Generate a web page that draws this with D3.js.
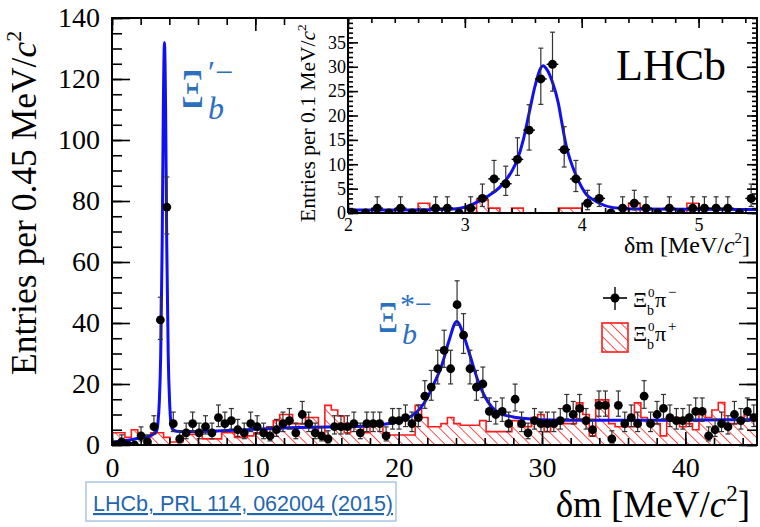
<!DOCTYPE html>
<html>
<head>
<meta charset="utf-8">
<script src="https://cdn.jsdelivr.net/npm/d3@7/dist/d3.min.js"></script>
<style>
  body { margin: 0; background: #fff; }
  svg text { font-family: "Liberation Serif", "DejaVu Serif", serif; }
</style>
</head>
<body>
<svg id="chart" width="760" height="527"></svg>
<script>
// ---- data ----
// main plot: 0.45 MeV bins from 0 to 45
var mainLo = 0, mainBin = 0.45;
var rsCounts = [
  0, 1, 0, 0, 3, 1, 6, 41, 78, 7,
  2, 4, 7, 4, 6, 4, 9, 7, 8, 5,
  4, 7, 6, 4, 3, 5, 7, 8, 4, 10,
  7, 4, 3, 2, 6, 6, 6, 7, 4, 7,
  7, 7, 3, 8, 8, 9, 7, 9, 16, 19,
  25, 31, 25, 46, 36, 25, 19, 20, 11, 10,
  11, 7, 15, 7, 4, 8, 7, 7, 7, 8,
  12, 10, 12, 8, 5, 13, 13, 2, 13, 7,
  9, 7, 16, 7, 10, 12, 9, 8, 8, 9,
  11, 11, 3, 5, 7, 6, 10, 8, 11, 9
];
var wsCounts = [
  4, 4, 2.5, 5, 2.5, 2.5, 4, 4, 2.5, 1,
  1, 3.5, 3.5, 3.5, 2, 2, 2, 4, 4, 2.5,
  2.5, 3, 4, 4, 6, 8, 10, 10, 7, 7,
  9, 9, 4, 13, 11.5, 9.5, 4, 6, 6, 4,
  7, 7, 4, 3.3, 3.3, 3.3, 3.3, 13, 9, 6,
  6, 7, 9, 7, 6.5, 6.5, 6.5, 8, 4.4, 4.4,
  4.4, 4.4, 8, 6, 6, 9, 10, 4.4, 7, 7,
  7, 7, 13.8, 10, 3, 14.8, 14.8, 7, 6, 6,
  6, 13.8, 9, 7, 7, 3, 9, 9, 6, 7,
  5, 11.5, 9, 11.5, 13.9, 7, 7, 8, 10, 10
];
// fit curve, [dm, entries]
var fitMain = [
  [0, 0.8], [0.5, 1.2], [1, 1.5], [1.5, 1.9], [2, 2.3], [2.5, 2.8], [2.9, 3.6],
  [3.1, 4.5], [3.2, 7], [3.3, 14], [3.4, 30], [3.5, 66], [3.58, 110], [3.66, 132],
  [3.74, 110], [3.82, 66], [3.92, 30], [4.02, 14], [4.12, 7], [4.25, 5], [4.5, 4.5],
  [5, 4.4], [7, 4.5], [9, 4.9], [11, 5.4], [13, 5.7], [15, 5.9], [17, 6.1],
  [18.5, 6.5], [19.5, 7.2], [20.3, 8.3], [21, 9.8], [21.5, 12], [22, 15.5],
  [22.5, 20.5], [23, 26], [23.5, 34], [24.05, 40.5], [24.6, 35], [25, 29],
  [25.5, 21.5], [26, 16], [26.5, 12.5], [27, 10.6], [28, 9.2], [29, 8.6],
  [30, 8.3], [33, 8.1], [37, 8.1], [41, 8.2], [45, 8.3]
];
var mainXTicks = [0, 10, 20, 30, 40];
var mainYTicks = [0, 20, 40, 60, 80, 100, 120, 140];

// inset: 0.1 MeV bins from 2 to 5.5
var insetLo = 2, insetBin = 0.1;
var insetCounts = [
  0, 0, 1, 0, 1, 0, 0, 1, 1, 0,
  1, 3, 7, 6, 11, 17, 27.5, 30.5, 13, 7,
  2, 3, 0, 1, 2, 1, 0, 1, 0, 1,
  1, 1, 1, 0, 3
];
var insetWs = [
  0, 0, 0, 0, 0, 0, 2, 0, 0, 0,
  0, 2.7, 1, 0, 1, 0, 0, 0, 1, 1,
  0, 0, 0, 0, 2, 0, 0, 0, 0, 2,
  0, 0, 0, 0, 0
];
var fitInset = [
  [2, 0.6], [2.5, 0.6], [2.9, 0.8], [3.0, 1.2], [3.1, 2.2], [3.2, 3.5], [3.3, 5.3],
  [3.4, 8.5], [3.45, 11], [3.5, 15], [3.55, 20.5], [3.6, 26], [3.65, 29.8],
  [3.67, 30.2], [3.7, 29.5], [3.75, 26.8], [3.8, 22.5], [3.83, 18.5], [3.87, 13.5],
  [3.9, 11], [3.95, 7.8], [4.0, 5.3], [4.04, 3.8], [4.1, 2.7], [4.15, 2],
  [4.27, 1.1], [4.45, 0.8], [5.5, 0.7]
];
var insetXTicks = [2, 3, 4, 5];
var insetYTicks = [0, 5, 10, 15, 20, 25, 30, 35];

// ---- drawing ----
var svg = d3.select("#chart");
var blue = "#1010f0", red = "#ff1a1a", annot = "#2c6fbd";

var defs = svg.append("defs");
var pat = defs.append("pattern")
  .attr("id", "hatch")
  .attr("patternUnits", "userSpaceOnUse")
  .attr("width", 7.5).attr("height", 7.5)
  .attr("patternTransform", "rotate(-45)");
pat.append("line")
  .attr("x1", 0).attr("y1", 0).attr("x2", 0).attr("y2", 7.5)
  .attr("stroke", red).attr("stroke-width", 1.5);

defs.append("clipPath").attr("id", "clipMain")
  .append("rect").attr("x", 112).attr("y", 18).attr("width", 645).attr("height", 427);
defs.append("clipPath").attr("id", "clipInset")
  .append("rect").attr("x", 348).attr("y", 18).attr("width", 409).attr("height", 195);

var x = d3.scaleLinear().domain([0, 45]).range([112, 757]);
var y = d3.scaleLinear().domain([0, 140]).range([445, 18]);
var xi = d3.scaleLinear().domain([2, 5.5]).range([348, 757]);
var yi = d3.scaleLinear().domain([0, 40]).range([213, 18]);

// Poisson (Gehrels) intervals for the points
function errUp(n) { return n > 0 ? 1 + Math.sqrt(n + 0.75) : 0; }
function errDn(n) { return n > 0 ? Math.sqrt(n - 0.25) : 0; }

function drawHist(g, counts, lo, w, xs, ys) {
  var pts = counts.map(function(v, i) { return [lo + i * w, v]; });
  pts.push([lo + counts.length * w, counts[counts.length - 1]]);
  g.append("path")
    .attr("d", d3.area().x(d => xs(d[0])).y0(ys(0)).y1(d => ys(d[1])).curve(d3.curveStepAfter)(pts))
    .attr("fill", "url(#hatch)");
  g.append("path")
    .attr("d", d3.line().x(d => xs(d[0])).y(d => ys(d[1])).curve(d3.curveStepAfter)(pts))
    .attr("fill", "none").attr("stroke", red).attr("stroke-width", 1.6);
}

function drawFit(g, pts, xs, ys) {
  g.append("path")
    .attr("d", d3.line().x(d => xs(d[0])).y(d => ys(d[1])).curve(d3.curveMonotoneX)(pts))
    .attr("fill", "none").attr("stroke", blue).attr("stroke-width", 3);
}

function drawPoints(g, counts, lo, w, xs, ys, r) {
  var data = counts.map(function(n, i) { return { c: lo + (i + 0.5) * w, n: n }; });
  var withErr = data.filter(d => d.n > 0);
  g.append("g").selectAll("line").data(withErr).join("line")
    .attr("x1", d => xs(d.c)).attr("x2", d => xs(d.c))
    .attr("y1", d => ys(d.n - errDn(d.n))).attr("y2", d => ys(d.n + errUp(d.n)))
    .attr("stroke", "#333").attr("stroke-width", 1.2);
  ["up", "dn"].forEach(function(k) {
    g.append("g").selectAll("line").data(withErr).join("line")
      .attr("x1", d => xs(d.c) - 2.5).attr("x2", d => xs(d.c) + 2.5)
      .attr("y1", d => ys(k == "up" ? d.n + errUp(d.n) : d.n - errDn(d.n)))
      .attr("y2", d => ys(k == "up" ? d.n + errUp(d.n) : d.n - errDn(d.n)))
      .attr("stroke", "#333").attr("stroke-width", 1.2);
  });
  g.append("g").selectAll("line").data(data).join("line")
    .attr("x1", d => xs(d.c - w / 2)).attr("x2", d => xs(d.c + w / 2))
    .attr("y1", d => ys(d.n)).attr("y2", d => ys(d.n))
    .attr("stroke", "#000").attr("stroke-width", 1.4);
  g.append("g").selectAll("circle").data(data).join("circle")
    .attr("cx", d => xs(d.c)).attr("cy", d => ys(d.n)).attr("r", r)
    .attr("fill", "#000");
}

function styleAxis(sel, fs) {
  sel.select(".domain").remove();
  sel.selectAll(".tick line").attr("stroke", "#000").attr("stroke-width", 1.6);
  sel.selectAll(".tick text").attr("font-size", fs).attr("fill", "#000")
    .attr("font-family", "Liberation Serif, serif");
}

// main plot contents
var gm = svg.append("g").attr("clip-path", "url(#clipMain)");
drawHist(gm, wsCounts, mainLo, mainBin, x, y);
drawFit(gm, fitMain, x, y);
drawPoints(gm, rsCounts, mainLo, mainBin, x, y, 4.4);

// main axes
svg.append("g").attr("transform", "translate(112,0)")
  .call(d3.axisLeft(y).tickValues(mainYTicks).tickSize(-18).tickPadding(12))
  .call(styleAxis, 28);
svg.append("g").attr("transform", "translate(112,0)")
  .call(d3.axisLeft(y).tickValues(d3.range(0, 141, 5)).tickSize(-10).tickFormat(""))
  .call(styleAxis, 28);
svg.append("g").attr("transform", "translate(757,0)")
  .call(d3.axisRight(y).tickValues(mainYTicks).tickSize(-18).tickFormat(""))
  .call(styleAxis, 28);
svg.append("g").attr("transform", "translate(757,0)")
  .call(d3.axisRight(y).tickValues(d3.range(0, 141, 5)).tickSize(-10).tickFormat(""))
  .call(styleAxis, 28);
svg.append("g").attr("transform", "translate(0,445)")
  .call(d3.axisBottom(x).tickValues(mainXTicks).tickSize(-13).tickPadding(12))
  .call(styleAxis, 28);
svg.append("g").attr("transform", "translate(0,445)")
  .call(d3.axisBottom(x).tickValues(d3.range(0, 46, 2)).tickSize(-7).tickFormat(""))
  .call(styleAxis, 28);
svg.append("g").attr("transform", "translate(0,18)")
  .call(d3.axisTop(x).tickValues(mainXTicks).tickSize(-13).tickFormat(""))
  .call(styleAxis, 28);
svg.append("g").attr("transform", "translate(0,18)")
  .call(d3.axisTop(x).tickValues(d3.range(0, 46, 2)).tickSize(-7).tickFormat(""))
  .call(styleAxis, 28);

// inset
svg.append("rect").attr("x", 286).attr("y", 19).attr("width", 470).attr("height", 238)
  .attr("fill", "#fff");
var gi = svg.append("g").attr("clip-path", "url(#clipInset)");
drawHist(gi, insetWs, insetLo, insetBin, xi, yi);
drawFit(gi, fitInset, xi, yi);
drawPoints(gi, insetCounts, insetLo, insetBin, xi, yi, 4.5);

svg.append("g").attr("transform", "translate(348,0)")
  .call(d3.axisLeft(yi).tickValues(insetYTicks).tickSize(-10).tickPadding(2))
  .call(styleAxis, 18);
svg.append("g").attr("transform", "translate(348,0)")
  .call(d3.axisLeft(yi).tickValues(d3.range(0, 41, 1)).tickSize(-5).tickFormat(""))
  .call(styleAxis, 18);
svg.append("g").attr("transform", "translate(757,0)")
  .call(d3.axisRight(yi).tickValues(insetYTicks).tickSize(-10).tickFormat(""))
  .call(styleAxis, 18);
svg.append("g").attr("transform", "translate(757,0)")
  .call(d3.axisRight(yi).tickValues(d3.range(0, 41, 1)).tickSize(-5).tickFormat(""))
  .call(styleAxis, 18);
svg.append("g").attr("transform", "translate(0,213)")
  .call(d3.axisBottom(xi).tickValues(insetXTicks).tickSize(-10).tickPadding(5)
    .tickFormat(d3.format("d")))
  .call(styleAxis, 18);
svg.append("g").attr("transform", "translate(0,213)")
  .call(d3.axisBottom(xi).tickValues(d3.range(2, 5.51, 0.2)).tickSize(-5).tickFormat(""))
  .call(styleAxis, 18);
svg.append("g").attr("transform", "translate(0,18)")
  .call(d3.axisTop(xi).tickValues(insetXTicks).tickSize(-10).tickFormat(""))
  .call(styleAxis, 18);
svg.append("g").attr("transform", "translate(0,18)")
  .call(d3.axisTop(xi).tickValues(d3.range(2, 5.51, 0.2)).tickSize(-5).tickFormat(""))
  .call(styleAxis, 18);
svg.append("line").attr("x1", 348).attr("x2", 348).attr("y1", 18).attr("y2", 213)
  .attr("stroke", "#000").attr("stroke-width", 2);
svg.append("line").attr("x1", 348).attr("x2", 757).attr("y1", 213).attr("y2", 213)
  .attr("stroke", "#000").attr("stroke-width", 2);

// main frame
svg.append("rect").attr("x", 112).attr("y", 18).attr("width", 645).attr("height", 427)
  .attr("fill", "none").attr("stroke", "#000").attr("stroke-width", 2);

// axis titles
function unitLabel(t, fs) {
  t.append("tspan").text("MeV/");
  t.append("tspan").attr("font-style", "italic").text("c");
  t.append("tspan").attr("font-size", fs * 0.62).attr("dy", -fs * 0.42).text("2");
}
var ylab = svg.append("text")
  .attr("transform", "translate(36,375) rotate(-90)")
  .attr("font-size", 35.5).attr("fill", "#000");
ylab.append("tspan").text("Entries per 0.45 ");
unitLabel(ylab, 35.5);

var xlab = svg.append("text").attr("x", 750).attr("y", 517)
  .attr("text-anchor", "end").attr("font-size", 37).attr("fill", "#000");
xlab.append("tspan").text("δm [");
unitLabel(xlab, 37);
xlab.append("tspan").attr("dy", 37 * 0.42).text("]");

var yilab = svg.append("text")
  .attr("transform", "translate(315,222) rotate(-90)")
  .attr("font-size", 21.5).attr("fill", "#000");
yilab.append("tspan").text("Entries per 0.1 ");
unitLabel(yilab, 21.5);

var xilab = svg.append("text").attr("x", 750).attr("y", 253)
  .attr("text-anchor", "end").attr("font-size", 24).attr("fill", "#000");
xilab.append("tspan").text("δm [");
unitLabel(xilab, 24);
xilab.append("tspan").attr("dy", 24 * 0.42).text("]");

svg.append("text").attr("x", 616).attr("y", 80).attr("font-size", 44)
  .attr("fill", "#000").text("LHCb");

// peak annotations
function xiLabel(px, py, fs, w, sup, supX, supY, bX, bY, bFs) {
  svg.append("text").attr("x", px).attr("y", py).attr("font-size", fs)
    .attr("textLength", w).attr("lengthAdjust", "spacingAndGlyphs")
    .attr("fill", annot).text("Ξ");
  svg.append("text").attr("x", supX).attr("y", supY).attr("font-size", bFs)
    .attr("fill", annot).text(sup);
  svg.append("text").attr("x", bX).attr("y", bY).attr("font-size", bFs)
    .attr("font-style", "italic").attr("fill", annot).text("b");
}
xiLabel(181, 107, 54, 23, "′−", 208, 83, 208, 119, 32);
xiLabel(378, 332, 44, 20, "*−", 400, 314, 402, 344, 30);

// legend
var lg = svg.append("g");
lg.append("line").attr("x1", 615).attr("x2", 615).attr("y1", 287).attr("y2", 310)
  .attr("stroke", "#000").attr("stroke-width", 1.4);
lg.append("line").attr("x1", 603).attr("x2", 627).attr("y1", 298).attr("y2", 298)
  .attr("stroke", "#000").attr("stroke-width", 1.6);
lg.append("circle").attr("cx", 615).attr("cy", 298).attr("r", 4.5).attr("fill", "#000");
lg.append("rect").attr("x", 602).attr("y", 323).attr("width", 26).attr("height", 29)
  .attr("fill", "url(#hatch)").attr("stroke", red).attr("stroke-width", 1.6);

function legendText(px, py, sign) {
  lg.append("text").attr("x", px).attr("y", py).attr("font-size", 22).text("Ξ");
  lg.append("text").attr("x", px + 15).attr("y", py - 10).attr("font-size", 13).text("0");
  lg.append("text").attr("x", px + 14).attr("y", py + 8).attr("font-size", 14).text("b");
  lg.append("text").attr("x", px + 22).attr("y", py).attr("font-size", 22).text("π");
  lg.append("text").attr("x", px + 35).attr("y", py - 10).attr("font-size", 15).text(sign);
}
legendText(633, 307, "−");
legendText(633, 341, "+");

// reference box
svg.append("rect").attr("x", 86).attr("y", 482).attr("width", 310).attr("height", 39)
  .attr("fill", "#fff").attr("stroke", "#a9c6e3").attr("stroke-width", 1.5);
svg.append("text").attr("x", 93).attr("y", 511)
  .style("font-family", "'Liberation Sans', Arial, sans-serif")
  .attr("font-size", 21.5).attr("fill", "#1f66b0")
  .attr("text-decoration", "underline")
  .text("LHCb, PRL 114, 062004 (2015)");
</script>
</body>
</html>
